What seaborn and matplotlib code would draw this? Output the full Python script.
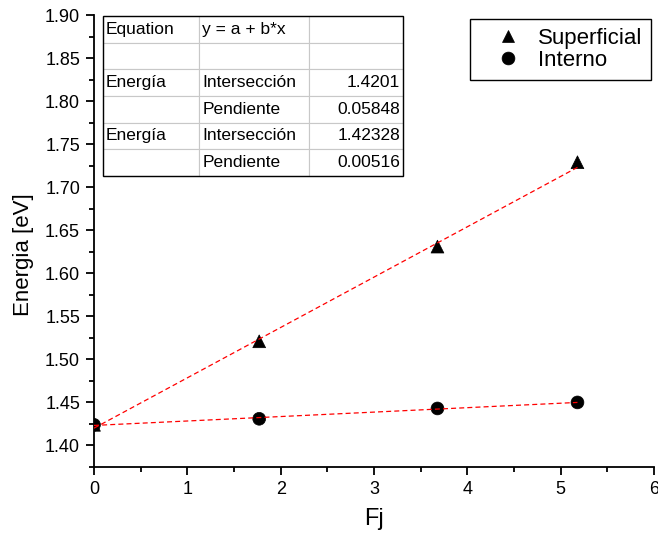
import matplotlib
matplotlib.use("Agg")
import matplotlib.pyplot as plt
import seaborn as sns
import pandas as pd
import numpy as np
from matplotlib.ticker import MultipleLocator, FormatStrFormatter
from matplotlib.patches import Rectangle

sns.set_style("ticks")
plt.rcParams['font.family'] = ['Liberation Sans', 'DejaVu Sans']
plt.rcParams['text.color'] = 'black'
plt.rcParams['axes.labelcolor'] = 'black'
plt.rcParams['xtick.color'] = 'black'
plt.rcParams['ytick.color'] = 'black'

# Data
fj = [0.0, 1.77, 3.68, 5.18]
superficial = [1.424, 1.521, 1.631, 1.729]
interno = [1.424, 1.431, 1.443, 1.450]
series_names = ["Superficial", "Interno"]
fit_intercepts = [1.4201, 1.42328]
fit_slopes = [0.05848, 0.00516]
table_rows = [
    ["Equation", "y = a + b*x", ""],
    ["", "", ""],
    ["Energía", "Intersección", "1.4201"],
    ["", "Pendiente", "0.05848"],
    ["Energía", "Intersección", "1.42328"],
    ["", "Pendiente", "0.00516"],
]

df = pd.DataFrame({
    "Fj": fj * 2,
    "Energia": superficial + interno,
    "serie": [series_names[0]] * len(fj) + [series_names[1]] * len(fj),
})

fit_rows = []
for name, a, b in zip(series_names, fit_intercepts, fit_slopes):
    for x in (min(fj), max(fj)):
        fit_rows.append({"Fj": x, "Energia": a + b * x, "serie": name})
fit_df = pd.DataFrame(fit_rows)

fig = plt.figure(figsize=(6.58, 5.35), dpi=100)
ax = fig.add_axes([94 / 658, 1 - 467 / 535, 560 / 658, 452 / 535])

for name in series_names:
    sub = fit_df[fit_df.serie == name]
    ax.plot(sub.Fj, sub.Energia, color="red", lw=0.9, ls=(0, (4, 2.5)), zorder=3)

sns.scatterplot(data=df, x="Fj", y="Energia", style="serie",
                markers={"Superficial": "^", "Interno": "o"},
                color="black", s=85, edgecolor="black", linewidth=0.5,
                ax=ax, zorder=2, legend=True)

ax.set_xlim(0, 6)
ax.set_ylim(1.375, 1.90)
ax.xaxis.set_major_locator(MultipleLocator(1))
ax.xaxis.set_minor_locator(MultipleLocator(0.5))
ax.yaxis.set_major_locator(MultipleLocator(0.05))
ax.yaxis.set_minor_locator(MultipleLocator(0.025))
ax.yaxis.set_major_formatter(FormatStrFormatter("%.2f"))
ax.xaxis.set_major_formatter(FormatStrFormatter("%d"))

for s in ["top", "right"]:
    ax.spines[s].set_visible(False)
for s in ["left", "bottom"]:
    ax.spines[s].set_linewidth(1.3)
    ax.spines[s].set_color("black")
ax.tick_params(which="major", direction="out", length=6, width=1.3,
               labelsize=13, colors="black", pad=4)
ax.tick_params(which="minor", direction="out", length=3.5, width=1.3, colors="black")
for lab in ax.get_xticklabels() + ax.get_yticklabels():
    lab.set_clip_on(False)

ax.set_xlabel("Fj", fontsize=17, labelpad=7)
ax.set_ylabel("Energia [eV]", fontsize=16)
ax.yaxis.set_label_coords(-0.108, 0.47)

# legend
handles, labels = ax.get_legend_handles_labels()
leg = ax.legend(handles, labels, loc="upper right",
                bbox_to_anchor=(651 / 658, 1 - 19 / 535),
                bbox_transform=fig.transFigure,
                fontsize=16, frameon=True, fancybox=False, framealpha=1,
                edgecolor="black", borderpad=0.4, handletextpad=0.05,
                labelspacing=0.05, markerscale=1.0, handlelength=2.6,
                borderaxespad=0)
leg.get_frame().set_linewidth(1.0)
for t in leg.get_texts():
    t.set_color("black")

# table
tbl = ax.table(cellText=table_rows, colWidths=[0.32, 0.367, 0.313],
               bbox=[9 / 560, 1 - 161 / 452, 300 / 560, 160 / 452],
               cellLoc="left", zorder=5)
tbl.auto_set_font_size(False)
for (r, c), cell in tbl.get_celld().items():
    cell.set_edgecolor("#c8c8c8")
    cell.set_linewidth(0.8)
    cell.set_facecolor("white")
    cell.PAD = 0.03
    cell.get_text().set_fontsize(12.5)
    cell.get_text().set_color("black")
    if c == 2:
        cell.get_text().set_ha("right")
        cell._loc = "right"
ax.add_patch(Rectangle((9 / 560, 1 - 161 / 452), 300 / 560, 160 / 452,
                       transform=ax.transAxes, fill=False, edgecolor="black",
                       lw=1.0, zorder=6, clip_on=False))

fig.savefig("out.png", dpi=100)
